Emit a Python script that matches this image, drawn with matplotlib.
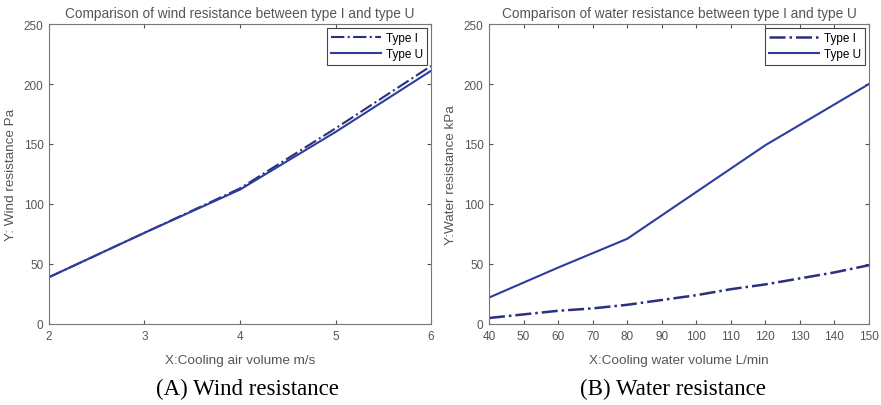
import matplotlib.pyplot as plt

# wind resistance (A)
air_volume = [2, 3, 4, 5, 6]
wind_type_i = [39, 76, 113, 163, 215]
wind_type_u = [39, 76, 112, 160, 211]

# water resistance (B)
water_volume_i = [40, 50, 60, 70, 80, 90, 100, 110, 120, 130, 140, 150]
water_type_i = [5, 8, 11, 13, 16, 20, 24, 29, 33, 38, 43, 49]
water_volume_u = [40, 60, 80, 100, 120, 150]
water_type_u = [22, 47, 71, 110, 149, 200]

plt.rcParams['font.family'] = ['Liberation Sans', 'DejaVu Sans']

gray = '#555555'
col_u = '#2e3c9e'
col_i = '#2a2f7e'

fig = plt.figure(figsize=(8.81, 4.06), dpi=100)
ax1 = fig.add_axes([49 / 881, 1 - 325 / 406, 382 / 881, 300 / 406])
ax2 = fig.add_axes([489 / 881, 1 - 325 / 406, 380 / 881, 300 / 406])


def style(ax, title, xlabel, ylabel):
    ax.set_ylim(0, 250)
    ax.set_yticks([0, 50, 100, 150, 200, 250])
    ax.set_title(title, fontsize=9.8, color=gray, pad=5)
    ax.set_xlabel(xlabel, fontsize=9.7, color=gray, labelpad=9)
    ax.set_ylabel(ylabel, fontsize=9.7, color=gray, labelpad=5)
    ax.tick_params(direction='in', top=True, right=True, labelsize=8.5,
                   colors=gray, length=3, pad=4)
    for s in ax.spines.values():
        s.set_color('#777777')
    leg = ax.legend(loc='upper right', fontsize=8.5, handlelength=4.2,
                    fancybox=False, edgecolor='#444444', framealpha=1,
                    borderpad=0.35, labelspacing=0.35, handletextpad=0.4,
                    borderaxespad=0.35)
    leg.get_frame().set_linewidth(0.8)


ax1.plot(air_volume, wind_type_i, color=col_i, lw=1.5, ls='-.', label='Type I')
ax1.plot(air_volume, wind_type_u, color=col_u, lw=1.5, label='Type U')
ax1.set_xlim(2, 6)
ax1.set_xticks([2, 3, 4, 5, 6])
style(ax1, 'Comparison of wind resistance between type I and type U',
      'X:Cooling air volume m/s', 'Y: Wind resistance Pa')

ax2.plot(water_volume_i, water_type_i, color=col_i, lw=1.8, ls='-.', label='Type I')
ax2.plot(water_volume_u, water_type_u, color=col_u, lw=1.5, label='Type U')
ax2.set_xlim(40, 150)
ax2.set_xticks(range(40, 151, 10))
style(ax2, 'Comparison of water resistance between type I and type U',
      'X:Cooling water volume L/min', 'Y:Water resistance kPa')

fig.text(247 / 881, 1 - 389 / 406, '(A) Wind resistance', ha='center', va='center',
         fontsize=16.5, family='Liberation Serif')
fig.text(673 / 881, 1 - 389 / 406, '(B) Water resistance', ha='center', va='center',
         fontsize=16.5, family='Liberation Serif')

fig.savefig('out.png', dpi=100)
